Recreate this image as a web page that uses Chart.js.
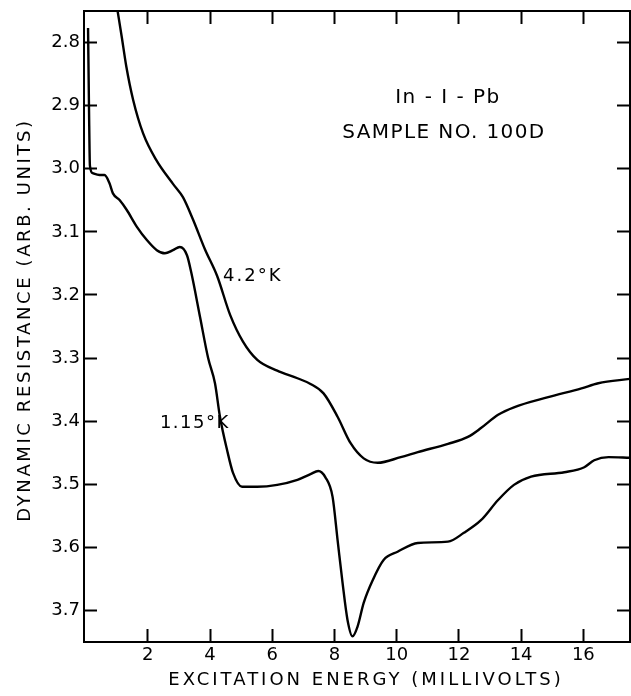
<!DOCTYPE html>
<html>
<head>
<meta charset="utf-8">
<script src="https://cdn.jsdelivr.net/npm/chart.js@4.4.0/dist/chart.umd.min.js"></script>
<style>
  html, body { margin: 0; padding: 0; background: #fff; }
  #wrap { width: 631px; height: 696px; position: relative; }
</style>
</head>
<body>
<div id="wrap"><canvas id="resistanceChart"></canvas></div>
<script>
// 4.2 K trace (excitation energy in mV, dynamic resistance in arb. units)
var warmEnergy = [1.03, 1.16, 1.31, 1.53, 1.85, 2.27, 2.81, 3.13, 3.45, 3.84, 4.23, 4.65, 5.06, 5.52,
  6.16, 6.81, 7.23, 7.65, 8.1, 8.52, 8.94, 9.39, 10.13, 10.68, 11.65, 12.29, 12.71, 13.26, 13.77,
  14.87, 15.94, 16.48, 17.5];
var warmResistance = [2.75, 2.79, 2.838, 2.891, 2.944, 2.986, 3.024, 3.045, 3.08, 3.128, 3.17, 3.232,
  3.274, 3.303, 3.32, 3.332, 3.341, 3.356, 3.393, 3.435, 3.459, 3.466, 3.457, 3.449, 3.436, 3.425,
  3.411, 3.39, 3.378, 3.362, 3.348, 3.34, 3.333];

// 1.15 K trace
var coldEnergy = [0.08, 0.11, 0.14, 0.23, 0.45, 0.61, 0.77, 0.88, 1.1, 1.32, 1.65, 1.97, 2.29, 2.55,
  2.81, 3.03, 3.26, 3.4, 3.68, 3.94, 4.16, 4.32, 4.55, 4.74, 5.03, 5.52, 6.16, 6.81, 7.23, 7.48, 7.71,
  7.94, 8.1, 8.26, 8.42, 8.58, 8.74, 8.94, 9.23, 9.58, 10.03, 10.68, 11.65, 12.16, 12.71, 13.26, 13.77,
  14.32, 15.39, 16.03, 16.35, 16.81, 17.5];
var coldResistance = [2.777, 2.9, 2.995, 3.007, 3.01, 3.01, 3.023, 3.039, 3.05, 3.065, 3.092, 3.113,
  3.129, 3.134, 3.129, 3.124, 3.137, 3.165, 3.235, 3.3, 3.34, 3.393, 3.446, 3.482, 3.504, 3.504, 3.501,
  3.493, 3.484, 3.479, 3.489, 3.52, 3.588, 3.656, 3.715, 3.741, 3.726, 3.688, 3.652, 3.62, 3.607,
  3.593, 3.591, 3.577, 3.557, 3.525, 3.501, 3.488, 3.481, 3.473, 3.462, 3.457, 3.458];

var energyTicks = [2, 4, 6, 8, 10, 12, 14, 16];
var resistanceTicks = [2.8, 2.9, 3.0, 3.1, 3.2, 3.3, 3.4, 3.5, 3.6, 3.7];

var FONT = 'DejaVu Sans';

function toPoints(xs, ys) {
  return xs.map(function (x, i) { return { x: x, y: ys[i] }; });
}

function fixedTicks(values) {
  return function (scale) {
    scale.ticks = values.map(function (v) { return { value: v }; });
  };
}

// fixed axis thickness, and no extra room reserved for edge labels
function fixedSize(size) {
  return function (scale) {
    if (scale.isHorizontal()) scale.height = size;
    else scale.width = size;
    scale.paddingTop = scale.paddingBottom = scale.paddingLeft = scale.paddingRight = 0;
  };
}

// short tick marks pointing into the plot, no grid lines
function inwardGrid() {
  return { drawOnChartArea: false, drawTicks: true, tickLength: -13, tickWidth: 2, tickColor: '#000' };
}
var frame = { display: true, color: '#000', width: 2 };

// lettering: axis titles, sample name and curve labels
var lettering = {
  id: 'lettering',
  afterDraw: function (chart) {
    var ctx = chart.ctx;
    var sx = chart.scales.x, sy = chart.scales.y;
    function put(text, px, py, size, spacing, align, angle) {
      ctx.save();
      ctx.font = size + 'px "' + FONT + '"';
      ctx.letterSpacing = spacing + 'px';
      ctx.fillStyle = '#000';
      ctx.textAlign = align;
      ctx.textBaseline = 'middle';
      ctx.translate(px, py);
      ctx.rotate(angle || 0);
      ctx.fillText(text, 0, 0);
      ctx.restore();
    }
    put('DYNAMIC RESISTANCE (ARB. UNITS)', 25, 320, 18, 2.6, 'center', -Math.PI / 2);
    put('EXCITATION ENERGY (MILLIVOLTS)', 366, 680, 18, 3, 'center');

    put('In - I - Pb', sx.getPixelForValue(11.65), sy.getPixelForValue(2.888), 20, 1.5, 'center');
    put('SAMPLE NO. 100D', sx.getPixelForValue(11.52), sy.getPixelForValue(2.943), 20, 1.4, 'center');
    put('4.2°K', sx.getPixelForValue(4.42), sy.getPixelForValue(3.171), 18, 2, 'left');
    put('1.15°K', sx.getPixelForValue(2.39), sy.getPixelForValue(3.403), 18, 1.5, 'left');
  }
};

var ctx = document.getElementById('resistanceChart').getContext('2d');

new Chart(ctx, {
  type: 'line',
  data: {
    datasets: [{
      label: '4.2 K',
      data: toPoints(warmEnergy, warmResistance),
      borderColor: '#000',
      borderWidth: 2.4,
      pointRadius: 0,
      cubicInterpolationMode: 'monotone',
      fill: false
    }, {
      label: '1.15 K',
      data: toPoints(coldEnergy, coldResistance),
      borderColor: '#000',
      borderWidth: 2.4,
      pointRadius: 0,
      cubicInterpolationMode: 'monotone',
      fill: false
    }]
  },
  options: {
    responsive: true,
    maintainAspectRatio: false,
    animation: false,
    devicePixelRatio: 1,
    layout: { padding: { top: 11, right: 1, left: 0, bottom: 0 } },
    plugins: {
      legend: { display: false },
      tooltip: { enabled: false }
    },
    scales: {
      x: {
        type: 'linear',
        position: 'bottom',
        min: -0.05,
        max: 17.5,
        afterBuildTicks: fixedTicks(energyTicks),
        afterFit: fixedSize(54),
        grid: inwardGrid(),
        border: frame,
        ticks: {
          color: '#000',
          padding: 16,
          maxRotation: 0,
          font: { family: FONT, size: 18 },
          callback: function (v) { return String(v); }
        }
      },
      x2: {
        type: 'linear',
        position: 'top',
        min: -0.05,
        max: 17.5,
        afterBuildTicks: fixedTicks(energyTicks),
        afterFit: fixedSize(0),
        grid: inwardGrid(),
        border: frame,
        ticks: { display: false }
      },
      y: {
        type: 'linear',
        position: 'left',
        reverse: true,
        min: 2.75,
        max: 3.75,
        afterBuildTicks: fixedTicks(resistanceTicks),
        afterFit: fixedSize(84),
        grid: inwardGrid(),
        border: frame,
        ticks: {
          color: '#000',
          padding: 17,
          font: { family: FONT, size: 18 },
          callback: function (v) { return Number(v).toFixed(1); }
        }
      },
      y2: {
        type: 'linear',
        position: 'right',
        reverse: true,
        min: 2.75,
        max: 3.75,
        afterBuildTicks: fixedTicks(resistanceTicks),
        afterFit: fixedSize(0),
        grid: inwardGrid(),
        border: frame,
        ticks: { display: false }
      }
    }
  },
  plugins: [lettering]
});
</script>
</body>
</html>
